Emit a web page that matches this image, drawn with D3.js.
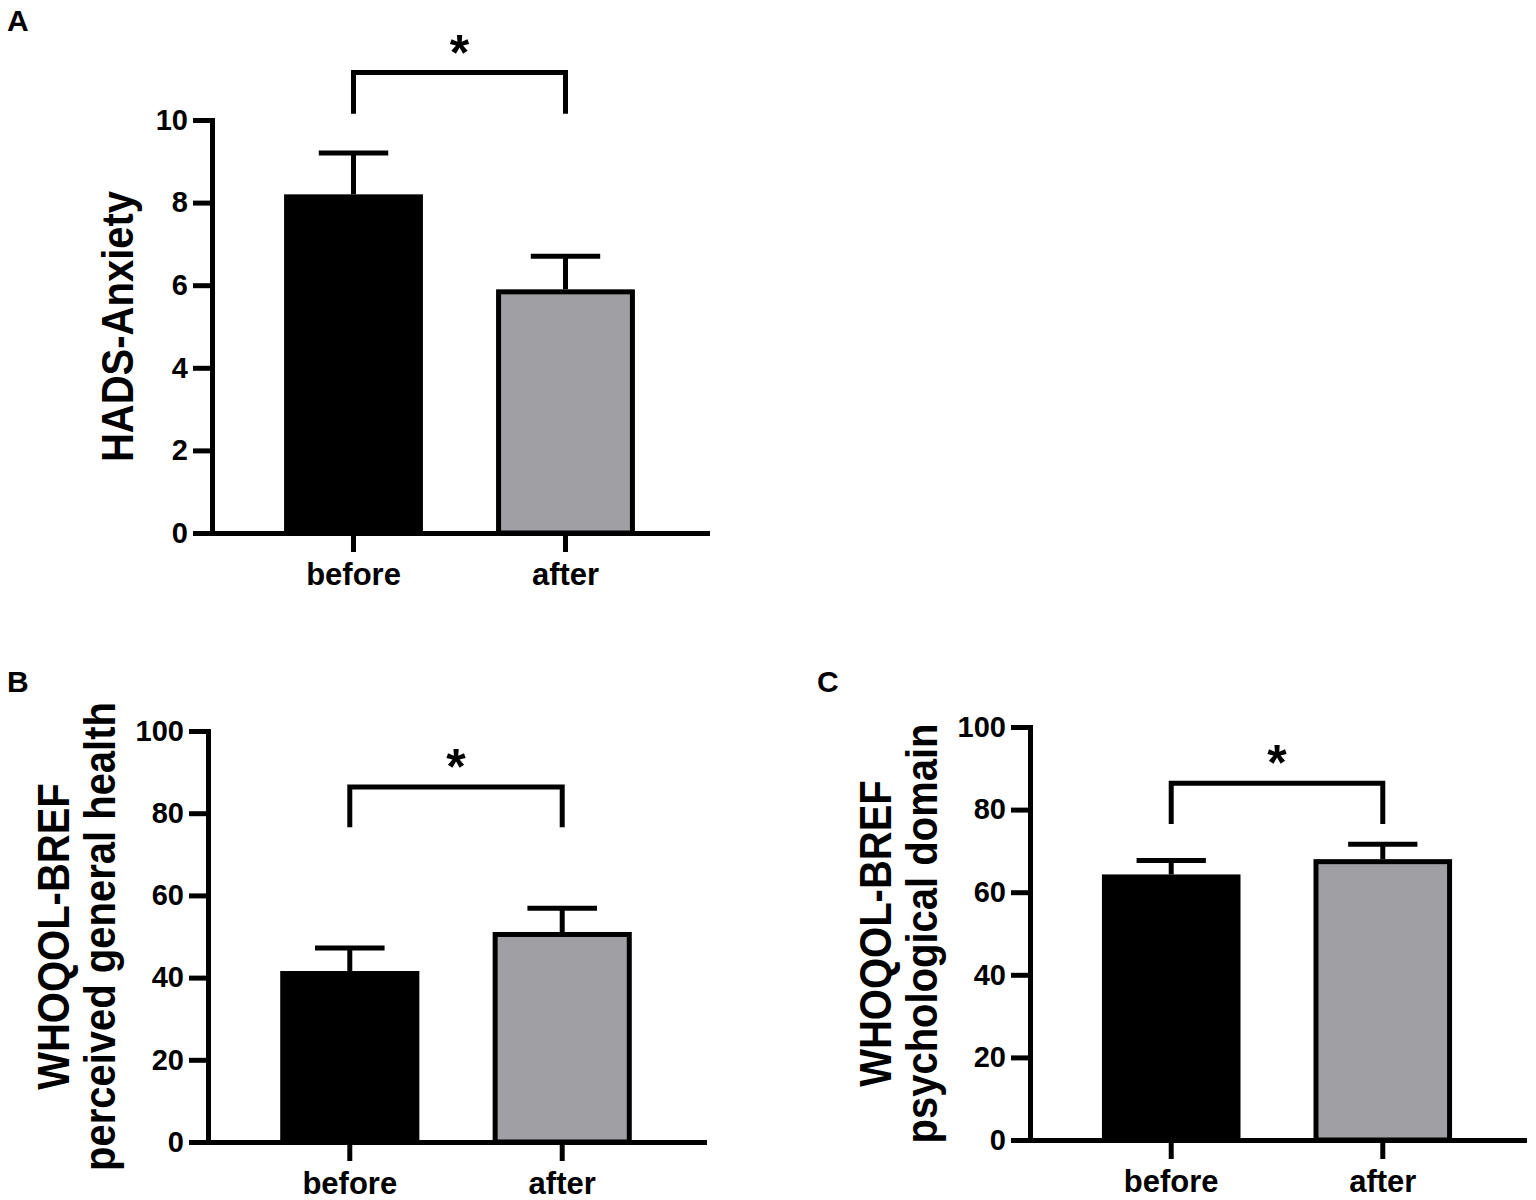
<!DOCTYPE html>
<html>
<head>
<meta charset="utf-8">
<script src="https://cdn.jsdelivr.net/npm/d3@7/dist/d3.min.js"></script>
<style>
  body { margin: 0; background: #fff; }
  svg { display: block; font-family: "Liberation Sans", Arial, Helvetica, sans-serif; font-weight: bold; }
</style>
</head>
<body>
<div id="chart"></div>
<script>
// values (mean and error above the mean)
var categories = ["before", "after"];

var anxietyMeans = [8.2, 5.9];
var anxietyErrors = [1.0, 0.8];
var anxietyTicks = [0, 2, 4, 6, 8, 10];

var healthMeans = [41.6, 51.1];
var healthErrors = [5.6, 5.8];

var psychMeans = [64.3, 68.0];
var psychErrors = [3.4, 3.6];

var whoqolTicks = [0, 20, 40, 60, 80, 100];

var fills = ["#000000", "#a0a0a4"];
var lineW = 5;

var svg = d3.select("#chart").append("svg")
    .attr("width", 1536)
    .attr("height", 1200);

// panel letters
svg.append("text").attr("x", 7).attr("y", 31).style("font-size", "30px").text("A");
svg.append("text").attr("x", 7).attr("y", 692).style("font-size", "30px").text("B");
svg.append("text").attr("x", 817).attr("y", 692).style("font-size", "30px").text("C");

function drawPanel(cfg) {
    var g = svg.append("g");

    var y = d3.scaleLinear()
        .domain([0, cfg.max])
        .range([cfg.bottom, cfg.top]);

    var x = d3.scaleBand()
        .domain(categories)
        .range([cfg.left, cfg.right])
        .paddingInner(0.345)
        .paddingOuter(0.34);

    var bw = x.bandwidth();
    var data = categories.map(function (c, i) {
        return {cat: c, mean: cfg.means[i], err: cfg.errors[i], fill: fills[i]};
    });

    // error bars (upper only)
    var eb = g.selectAll(".err").data(data).enter().append("g").attr("class", "err");
    eb.append("line")
        .attr("x1", function (d) { return x(d.cat) + bw / 2; })
        .attr("x2", function (d) { return x(d.cat) + bw / 2; })
        .attr("y1", function (d) { return y(d.mean); })
        .attr("y2", function (d) { return y(d.mean + d.err); })
        .attr("stroke", "#000").attr("stroke-width", lineW);
    eb.append("line")
        .attr("x1", function (d) { return x(d.cat) + bw / 4; })
        .attr("x2", function (d) { return x(d.cat) + bw * 3 / 4; })
        .attr("y1", function (d) { return y(d.mean + d.err); })
        .attr("y2", function (d) { return y(d.mean + d.err); })
        .attr("stroke", "#000").attr("stroke-width", lineW);

    // bars
    g.selectAll(".bar").data(data).enter().append("rect")
        .attr("class", "bar")
        .attr("x", function (d) { return x(d.cat) + lineW / 2; })
        .attr("width", bw - lineW)
        .attr("y", function (d) { return y(d.mean) + lineW / 2; })
        .attr("height", function (d) { return cfg.bottom - y(d.mean) - lineW / 2; })
        .attr("fill", function (d) { return d.fill; })
        .attr("stroke", "#000")
        .attr("stroke-width", lineW);

    // axes
    var yAxis = g.append("g")
        .attr("transform", "translate(" + cfg.left + ",0)")
        .call(d3.axisLeft(y).tickValues(cfg.ticks).tickSize(19).tickSizeOuter(0).tickPadding(5));

    var xAxis = g.append("g")
        .attr("transform", "translate(0," + cfg.bottom + ")")
        .call(d3.axisBottom(x).tickSize(19).tickSizeOuter(0).tickPadding(11));

    [yAxis, xAxis].forEach(function (ax) {
        ax.select(".domain").attr("stroke-width", lineW).attr("stroke-linecap", "square");
        ax.selectAll(".tick line").attr("stroke-width", lineW);
        ax.selectAll("text")
            .attr("fill", "#000")
            .style("font-family", "'Liberation Sans', Arial, sans-serif")
            .style("font-weight", "bold");
    });
    yAxis.selectAll("text").style("font-size", "29px");
    xAxis.selectAll("text").style("font-size", "31px");

    // y axis title (one or two lines), glyphs a bit taller like the original
    var midY = (cfg.bottom + cfg.top) / 2;
    cfg.title.forEach(function (t, i) {
        g.append("text")
            .attr("transform", "translate(" + cfg.titleX[i] + "," + midY + ") rotate(-90) scale(1,1.12)")
            .attr("text-anchor", "middle")
            .style("font-size", "40px")
            .text(t);
    });

    // significance bracket
    var x1 = x(categories[0]) + bw / 2;
    var x2 = x(categories[1]) + bw / 2;
    g.append("path")
        .attr("d", "M" + x1 + "," + y(cfg.bracket[1]) +
            "V" + y(cfg.bracket[0]) +
            "H" + x2 +
            "V" + y(cfg.bracket[1]))
        .attr("fill", "none")
        .attr("stroke", "#000")
        .attr("stroke-width", lineW);

    g.append("text")
        .attr("x", (x1 + x2) / 2)
        .attr("y", y(cfg.bracket[0]) - 3)
        .attr("text-anchor", "middle")
        .style("font-size", "50px")
        .text("*");
}

drawPanel({
    means: anxietyMeans, errors: anxietyErrors, ticks: anxietyTicks, max: 10,
    left: 212, right: 707, bottom: 533, top: 120,
    title: ["HADS-Anxiety"], titleX: [133],
    bracket: [11.15, 10.15]
});

drawPanel({
    means: healthMeans, errors: healthErrors, ticks: whoqolTicks, max: 100,
    left: 208, right: 704, bottom: 1142, top: 731,
    title: ["WHOQOL-BREF", "perceived general health"], titleX: [69, 115],
    bracket: [86.4, 76.6]
});

drawPanel({
    means: psychMeans, errors: psychErrors, ticks: whoqolTicks, max: 100,
    left: 1030, right: 1524, bottom: 1140, top: 727,
    title: ["WHOQOL-BREF", "psychological domain"], titleX: [891, 937],
    bracket: [86.4, 76.5]
});
</script>
</body>
</html>
